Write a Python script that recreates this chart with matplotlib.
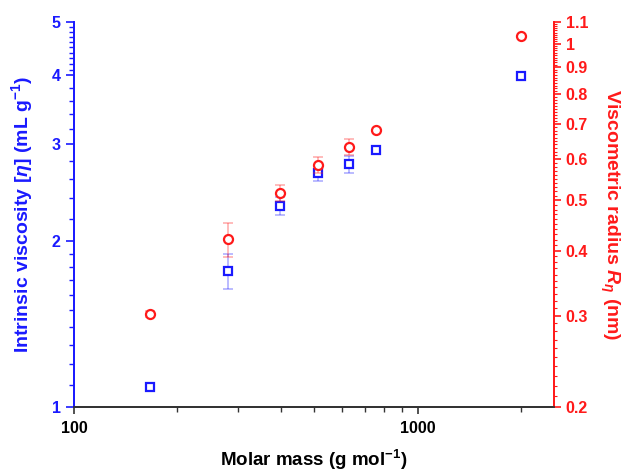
import numpy as np
import matplotlib.pyplot as plt
from matplotlib.ticker import FixedLocator, NullFormatter

plt.rcParams['font.family'] = ['Liberation Sans', 'DejaVu Sans']
plt.rcParams['font.weight'] = 'bold'
plt.rcParams['mathtext.fontset'] = 'custom'
plt.rcParams['mathtext.rm'] = 'Liberation Sans:bold'
plt.rcParams['mathtext.it'] = 'Liberation Sans:italic'
plt.rcParams['mathtext.bf'] = 'Liberation Sans:bold'

# data
molar_mass = [166, 280, 397, 514, 631, 755, 2000]
intr_visc = [1.09, 1.77, 2.32, 2.66, 2.76, 2.93, 3.99]
intr_visc_err = [0.0, 0.13, 0.09, 0.09, 0.095, 0.0, 0.0]
visc_radius = [0.303, 0.421, 0.517, 0.585, 0.633, 0.681, 1.036]
visc_radius_err = [0.004, 0.032, 0.019, 0.02, 0.022, 0.0, 0.0]

left_ticks = [1, 2, 3, 4, 5]
right_ticks = [0.2, 0.3, 0.4, 0.5, 0.6, 0.7, 0.8, 0.9, 1.0, 1.1]
right_labels = ['0.2', '0.3', '0.4', '0.5', '0.6', '0.7', '0.8', '0.9', '1', '1.1']
x_ticks = [100, 1000]

BLUE = '#1a1aff'
RED = '#ff1a1a'

fig = plt.figure(figsize=(6.32, 4.72), dpi=100)
ax = fig.add_axes([0.117, 0.1367, 0.7596, 0.8167])
ax2 = ax.twinx()

ax.errorbar(molar_mass, intr_visc, yerr=intr_visc_err, fmt='none',
            ecolor=BLUE, alpha=0.35, elinewidth=1.2, capsize=3.5, capthick=1.2)
ax.plot(molar_mass, intr_visc, 's', ms=6, mfc='white', mec=BLUE, mew=1.6, zorder=5)
ax2.errorbar(molar_mass, visc_radius, yerr=visc_radius_err, fmt='none',
             ecolor=RED, alpha=0.35, elinewidth=1.2, capsize=3.5, capthick=1.2)
ax2.plot(molar_mass, visc_radius, 'o', ms=6.5, mfc='white', mec=RED, mew=1.6, zorder=5)

ax.set_xscale('log')
ax.set_yscale('log')
ax2.set_yscale('log')
ax.set_xlim(100, 2490)
ax.set_ylim(1, 5)
ax2.set_ylim(0.2, 1.1)

# x axis
ax.xaxis.set_major_locator(FixedLocator(x_ticks))
ax.set_xticklabels([str(t) for t in x_ticks])
ax.xaxis.set_minor_locator(FixedLocator([200, 300, 400, 500, 600, 700, 800, 900, 2000]))
ax.xaxis.set_minor_formatter(NullFormatter())
ax.tick_params(axis='x', which='major', length=5, width=1.2, color='#333333',
               labelsize=11.5, pad=5)
ax.tick_params(axis='x', which='minor', length=3.5, width=1.0, color='#333333')
ax.set_xlabel('Molar mass (g mol$^{-1}$)', fontsize=13.5, fontweight='bold', labelpad=8)

# left axis
ax.yaxis.set_major_locator(FixedLocator(left_ticks))
ax.set_yticklabels([str(t) for t in left_ticks])
left_minor = list(np.arange(1.1, 2.0, 0.1)) + [2.2, 2.4, 2.6, 2.8, 3.2, 3.4, 3.6, 3.8] \
    + list(np.arange(4.1, 5.0, 0.1))
ax.yaxis.set_minor_locator(FixedLocator(left_minor))
ax.yaxis.set_minor_formatter(NullFormatter())
ax.tick_params(axis='y', which='major', length=6, width=1.2, colors=BLUE, labelsize=11.5)
ax.tick_params(axis='y', which='minor', length=3.5, width=1.0, colors=BLUE)
ax.set_ylabel(r'Intrinsic viscosity [$\mathit{\eta}$] (mL g$^{-1}$)', color=BLUE,
              fontsize=14, fontweight='bold', labelpad=12)

# right axis
ax2.yaxis.set_major_locator(FixedLocator(right_ticks))
ax2.set_yticklabels(right_labels)
ax2.yaxis.set_minor_locator(FixedLocator(np.arange(0.21, 1.1, 0.01)))
ax2.yaxis.set_minor_formatter(NullFormatter())
ax2.tick_params(axis='y', which='major', length=5, width=1.2, colors=RED, labelsize=11.5)
ax2.tick_params(axis='y', which='minor', length=2.5, width=0.8, colors=RED)
ax2.set_ylabel(r'Viscometric radius $R_{\eta}$ (nm)', color=RED, fontsize=14,
               fontweight='bold', rotation=270, labelpad=24)

for a in (ax, ax2):
    a.spines['top'].set_visible(False)
    a.spines['left'].set_color(BLUE)
    a.spines['right'].set_color(RED)
    a.spines['bottom'].set_color('#333333')
    for s in a.spines.values():
        s.set_linewidth(1.3)

plt.savefig('out.png', dpi=100)
